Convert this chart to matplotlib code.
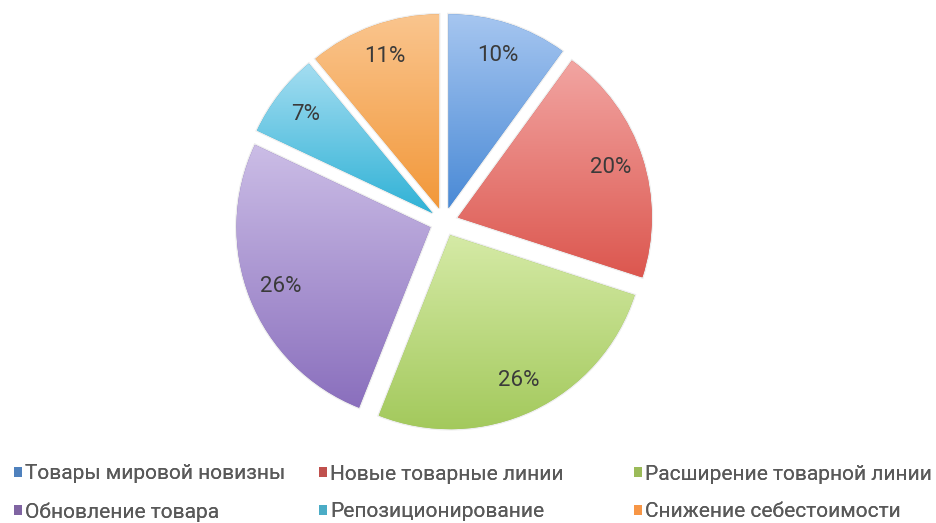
import numpy as np
import matplotlib.pyplot as plt
from matplotlib.colors import LinearSegmentedColormap
from matplotlib.patches import Patch

plt.rcParams["font.family"] = ["Roboto", "DejaVu Sans"]

# shares of new products by type, %
labels = ["Товары мировой новизны", "Новые товарные линии", "Расширение товарной линии",
          "Обновление товара", "Репозиционирование", "Снижение себестоимости"]
values = [10, 20, 26, 26, 7, 11]

# light (top) and dark (bottom) tone of every slice, plus the legend swatch
tops = ["#a6c6f0", "#f2a5a2", "#d5eaa6", "#cbbde6", "#a4ddf1", "#fac58e"]
bottoms = ["#4a8ad6", "#dc574f", "#a3c95c", "#8a6fbd", "#30b2d6", "#f2983a"]
swatches = ["#4f81bd", "#c0504d", "#9bbb59", "#8064a2", "#4bacc6", "#f79646"]

W, H = 937, 523
fig = plt.figure(figsize=(W / 100, H / 100), dpi=100)
ax = fig.add_axes([0, 0, 1, 1])

# pie centre and radius in pixels
cx, cy, r = 444, 222, 194
ax.set_xlim(-cx / r, (W - cx) / r)
ax.set_ylim(-(H - cy) / r, cy / r)
ax.set_aspect("equal")
ax.axis("off")

wedges, texts, autotexts = ax.pie(
    values, colors=bottoms, startangle=90, counterclock=False,
    explode=[0.075] * len(values), autopct=lambda p: f"{p:.0f}%",
    pctdistance=0.83, radius=1,
    textprops=dict(fontsize=16, color="#3a3a3a"))

# vertical gradient inside each slice
for w, top, bot in zip(wedges, tops, bottoms):
    path = w.get_path().transformed(w.get_patch_transform())
    x0, y0 = path.vertices.min(axis=0)
    x1, y1 = path.vertices.max(axis=0)
    cmap = LinearSegmentedColormap.from_list("g", [bot, top])
    grad = np.linspace(0, 1, 256).reshape(-1, 1)
    im = ax.imshow(grad, cmap=cmap, extent=[x0, x1, y0, y1], origin="lower",
                   aspect="auto", zorder=1.5)
    im.set_clip_path(w)
    w.set_edgecolor((0, 0, 0, 0.07))
    w.set_linewidth(2)

ax.set_xlim(-cx / r, (W - cx) / r)
ax.set_ylim(-(H - cy) / r, cy / r)

# three legend columns, two entries each, filled row by row
handles = [Patch(facecolor=c, edgecolor="none") for c in swatches]
col_x = [14, 319, 634]
for k, x in enumerate(col_x):
    idx = [k, k + 3]
    leg = fig.legend([handles[i] for i in idx], [labels[i] for i in idx],
                     loc="center left", bbox_to_anchor=(x / W, 1 - 493 / H),
                     frameon=False, fontsize=15, labelcolor="#595959",
                     handlelength=0.38, handleheight=0.38, handletextpad=0.15,
                     borderpad=0, borderaxespad=0, labelspacing=0.9)
    fig.add_artist(leg)

fig.savefig("out.png", dpi=100)
